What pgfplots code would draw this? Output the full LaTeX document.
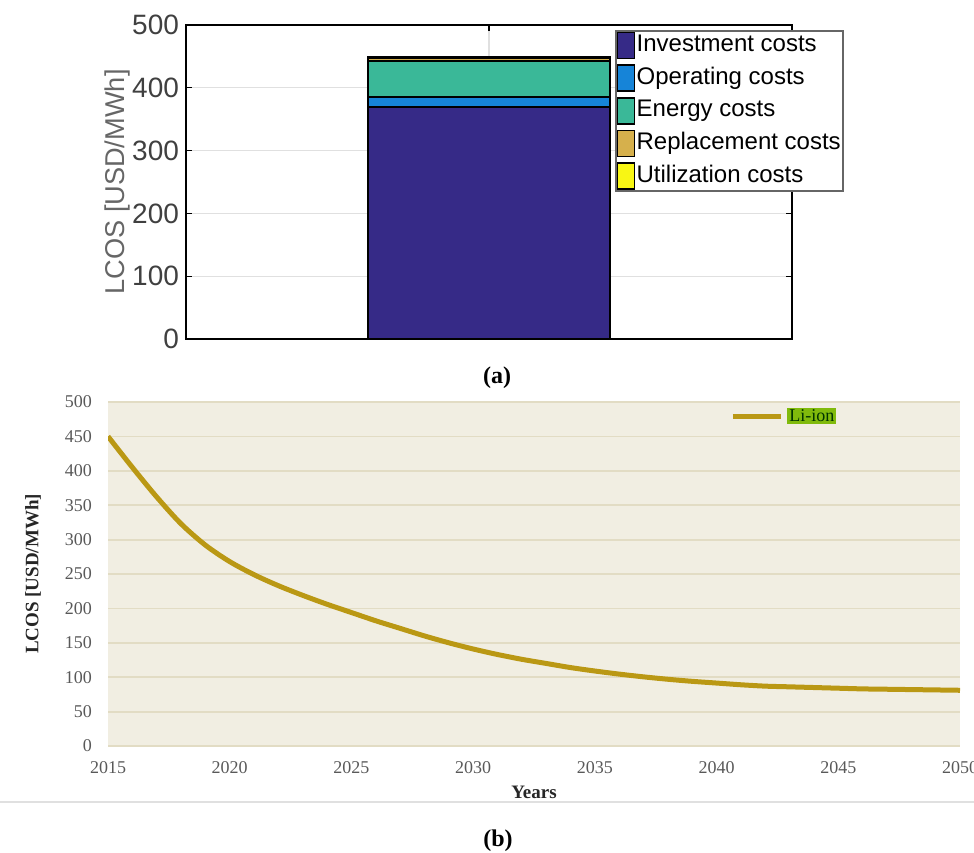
\documentclass[border=0pt]{standalone}
\usepackage{fontspec}
\setmainfont{Liberation Sans}
\newfontfamily\tnr{Liberation Serif}
\usepackage{pgfplots}
\usepackage{pgfplotstable}
\pgfplotsset{compat=1.18}
\definecolor{cinv}{RGB}{54,42,135}
\definecolor{cop}{RGB}{22,132,216}
\definecolor{cen}{RGB}{58,184,152}
\definecolor{crep}{RGB}{214,176,76}
\definecolor{cuti}{RGB}{248,246,20}
\definecolor{bgb}{RGB}{241,238,226}
\definecolor{gridb}{RGB}{226,220,196}
\definecolor{liion}{RGB}{186,152,20}
\definecolor{limeg}{RGB}{128,186,12}
\pgfplotsset{lgp/.style={legend image code/.code={\draw[##1, line width=0.8pt] (0pt,-6.5pt) rectangle (8.5pt,6.5pt);}}}
\pgfplotstableread{
year lcos
2015 450
2016 405
2017 362
2018 323
2019 292
2020 268
2021 249
2022 233
2023 219
2024 206
2025 194
2026 182
2027 171
2028 160
2029 150
2030 141
2031 133
2032 126
2033 120
2034 114
2035 109
2036 104.5
2037 100.5
2038 97
2039 94
2040 91.5
2041 89
2042 87
2043 86
2044 85
2045 84
2046 83
2047 82.5
2048 82
2049 81.5
2050 81
}\litable
\begin{document}
\begin{tikzpicture}
\begin{axis}[
  at={(93pt,256.5pt)}, anchor=south west, scale only axis,
  width=303pt, height=157pt,
  xmin=0, xmax=2, ymin=0, ymax=500,
  ybar stacked, bar width=0.8,
  xtick={1}, xticklabels={}, ytick={0,100,...,500},
  grid=major, major grid style={black!12, line width=0.6pt},
  tick align=inside, major tick length=3pt, tick style={black, line width=0.6pt},
  axis line style={line width=0.8pt},
  /pgf/number format/assume math mode=true,
  yticklabel style={font=\fontsize{14}{14}\selectfont, text=black!75},
  ylabel={LCOS [USD/MWh]},
  ylabel style={font=\fontsize{13.6}{13.6}\selectfont, text=black!60, at={(rel axis cs:-0.1139,0.5)}, anchor=center},
  legend style={at={(rel axis cs:0.708,0.984)}, anchor=north west, font=\fontsize{12}{12}\selectfont, draw=black!60, line width=0.8pt, inner sep=0.5pt, row sep=2.5pt, nodes={inner sep=0.6pt, text height=9pt, text depth=3pt}},
  legend cell align=left,
]
\addplot[fill=cinv, draw=black, line width=0.9pt, lgp] coordinates {(1,370)};
\addplot[fill=cop, draw=black, line width=0.9pt, lgp] coordinates {(1,15)};
\addplot[fill=cen, draw=black, line width=0.9pt, lgp] coordinates {(1,58)};
\addplot[fill=crep, draw=black, line width=0.9pt, lgp] coordinates {(1,4)};
\addplot[fill=cuti, draw=black, line width=0.9pt, lgp] coordinates {(1,2)};
\legend{Investment costs, Operating costs, Energy costs, Replacement costs, Utilization costs}
\end{axis}
\node[font=\tnr\bfseries\fontsize{12}{12}\selectfont] at (248.5pt,237pt) {(a)};
\begin{axis}[
  at={(54pt,53pt)}, anchor=south west, scale only axis,
  width=426pt, height=172pt,
  xmin=2015, xmax=2050, ymin=0, ymax=500,
  xtick={2015,2020,...,2050}, ytick={0,50,...,500},
  ymajorgrids, major grid style={gridb, line width=0.9pt},
  axis background/.style={fill=bgb},
  axis line style={draw=none}, major tick length=0pt,
  /pgf/number format/assume math mode=true,
  xticklabel style={/pgf/number format/1000 sep={}, font=\tnr\fontsize{9}{9}\selectfont, text=black!65, anchor=center, yshift=-11pt},
  yticklabel style={font=\tnr\fontsize{9}{9}\selectfont, text=black!65, anchor=east, xshift=-4.5pt},
  xlabel={Years},
  xlabel style={font=\tnr\bfseries\fontsize{9.5}{9.5}\selectfont, text=black!85, at={(rel axis cs:0.5,0)}, anchor=center, yshift=-23pt},
  ylabel={LCOS [USD/MWh]},
  ylabel style={font=\tnr\bfseries\fontsize{9.5}{9.5}\selectfont, text=black!85, at={(rel axis cs:-0.088,0.5)}, anchor=center},
  legend style={at={(rel axis cs:0.73,0.959)}, anchor=west, draw=none, fill=none, inner sep=0pt, font=\tnr\fontsize{9}{9}\selectfont},
  legend image code/.code={\draw[#1] (0pt,0pt) -- (24pt,0pt);},
]
\addplot[liion, line width=2.5pt, smooth] table[x=year,y=lcos]{\litable};
\addlegendentry{{\fboxsep=1pt\colorbox{limeg}{\textcolor{black!80!green}{Li-ion}}}}
\end{axis}
\draw[black!12, line width=1pt] (0pt,25pt) -- (487pt,25pt);
\node[font=\tnr\bfseries\fontsize{12}{12}\selectfont] at (249pt,5.5pt) {(b)};
\pgfresetboundingbox
\path[use as bounding box] (0pt,0pt) rectangle (487pt,426pt);
\end{tikzpicture}
\end{document}
